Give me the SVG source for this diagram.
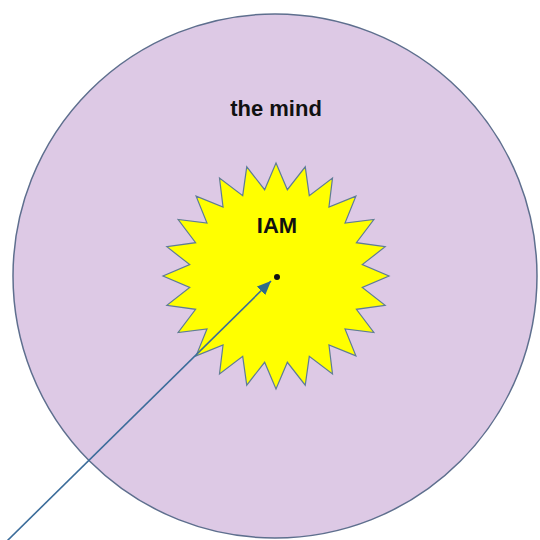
<svg xmlns="http://www.w3.org/2000/svg" width="540" height="540" viewBox="0 0 540 540">
<style>
.lbl{font-family:"Liberation Sans",Arial,sans-serif;font-weight:bold;font-size:22px;fill:#111;text-anchor:middle}
</style>
<defs>
<marker id="ah" markerUnits="userSpaceOnUse" markerWidth="16" markerHeight="12" refX="14" refY="6" orient="auto">
<path d="M0,0 L14,6 L0,12 Z" fill="#2f6b8a"/>
</marker>
</defs>
<rect width="540" height="540" fill="#ffffff"/>
<g id="mind">
<circle cx="275" cy="276" r="262" fill="#ddc9e5" stroke="#5e6f8e" stroke-width="1.5"/>
<text class="lbl" x="276" y="116">the mind</text>
</g>
<g id="iam">
<polygon fill="#ffff00" stroke="#5e7c96" stroke-width="1.2" points="276,163 287.36,189.74 305.25,166.85 309.29,195.62 332.5,178.14 328.96,206.98 355.9,196.1 345.02,223.04 373.86,219.5 356.38,242.71 385.15,246.75 362.26,264.64 389,276 362.26,287.36 385.15,305.25 356.38,309.29 373.86,332.5 345.02,328.96 355.9,355.9 328.96,345.02 332.5,373.86 309.29,356.38 305.25,385.15 287.36,362.26 276,389 264.64,362.26 246.75,385.15 242.71,356.38 219.5,373.86 223.04,345.02 196.1,355.9 206.98,328.96 178.14,332.5 195.62,309.29 166.85,305.25 189.74,287.36 163,276 189.74,264.64 166.85,246.75 195.62,242.71 178.14,219.5 206.98,223.04 196.1,196.1 223.04,206.98 219.5,178.14 242.71,195.62 246.75,166.85 264.64,189.74"/>
<text class="lbl" x="277" y="233">IAM</text>
<circle cx="277" cy="277" r="3" fill="#111"/>
</g>
<g id="connectors">
<line x1="7" y1="541" x2="271" y2="281" stroke="#3b6c9a" stroke-width="1.6" marker-end="url(#ah)"/>
</g>
</svg>
